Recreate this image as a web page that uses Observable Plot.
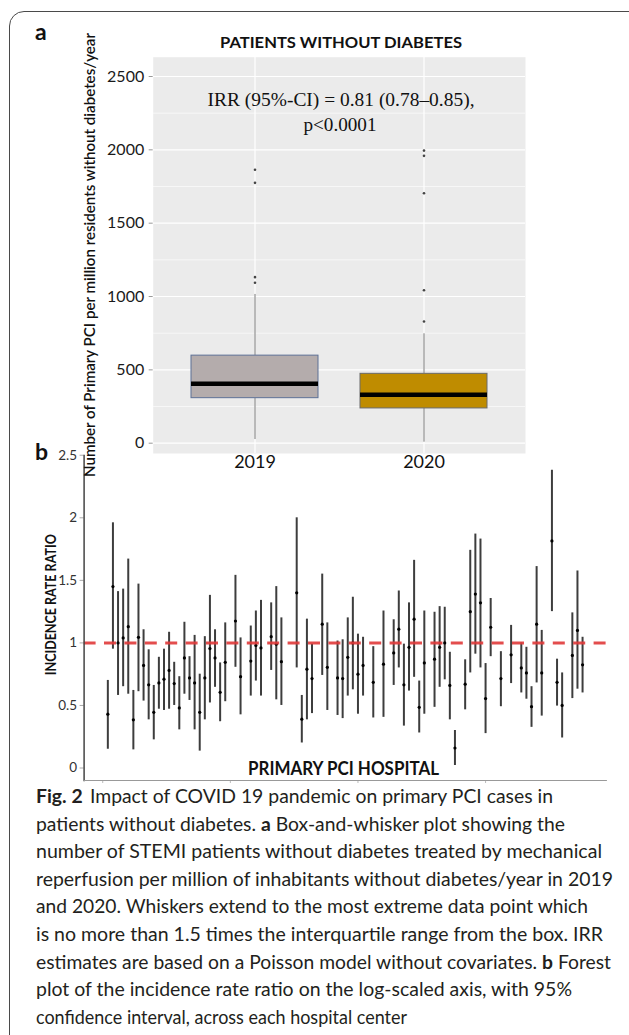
<!DOCTYPE html>
<html><head><meta charset="utf-8">
<script src="https://cdn.jsdelivr.net/npm/d3@7"></script>
<script src="https://cdn.jsdelivr.net/npm/@observablehq/plot@0.6"></script>
<style>
html,body{margin:0;padding:0;background:#fff}
body{width:629px;height:1035px;overflow:hidden;position:relative;font-family:Lato,sans-serif}
#frame{position:absolute;left:9px;top:11px;width:700px;height:1045px;border:1.4px solid #4a4a4a;border-radius:15px;box-sizing:border-box}
.panel{position:absolute;left:0}
#ov{position:absolute;left:0;top:0}
</style></head><body>
<div id="frame"></div>
<div id="pa" class="panel" style="top:0px"></div>
<div id="pb" class="panel" style="top:440px"></div>
<script>
// ---------- Panel a data (box plot) ----------
const years = ["2019", "2020"];
const q1 = [307, 237];
const med = [405, 330];
const q3 = [597, 473];
const whiskLo = [25, 7];
const whiskHi = [1014, 746];
const outliers2019 = [1094, 1132, 1775, 1864];
const outliers2020 = [830, 1043, 1704, 1959, 1995];
const yTicksA = [0, 500, 1000, 1500, 2000, 2500];
const yMinorA = [250, 750, 1250, 1750, 2250];

// ---------- Panel b data (forest plot) ----------
const hospitals = [1,2,3,4,5,6,7,8,9,10,11,12,13,14,15,16,17,18,19,20,21,22,23,24,
  26,27,29,30,31,33,34,35,38,39,40,41,43,44,46,47,48,49,50,51,53,55,57,58,59,60,61,62,63,
  65,66,67,68,69,71,72,73,74,75,76,78,80,82,83,84,85,86,88,89,90,92,93,94];
const irr = [0.43,1.45,1.00,1.04,1.13,0.385,1.045,0.82,0.665,0.445,0.68,0.71,0.78,0.675,0.48,0.88,0.72,0.68,0.445,0.72,0.955,0.88,0.605,0.845,
  1.175,0.73,0.855,0.98,0.96,1.05,0.99,0.85,1.40,0.39,0.79,0.715,1.15,0.805,0.72,0.715,0.885,1.00,0.75,0.82,0.685,0.83,0.92,1.11,0.665,0.965,1.19,0.485,0.84,
  0.87,0.965,1.00,0.66,0.16,0.67,1.25,1.39,1.32,0.555,1.125,0.715,0.905,0.80,0.76,0.49,1.15,0.76,1.815,0.685,0.50,0.90,1.10,0.825];
const ciLow = [0.15,0.95,0.58,0.65,0.59,0.145,0.61,0.535,0.385,0.225,0.47,0.46,0.47,0.50,0.305,0.59,0.54,0.305,0.135,0.385,0.52,0.645,0.37,0.53,
  0.805,0.425,0.575,0.695,0.575,0.78,0.545,0.50,0.80,0.20,0.385,0.435,0.74,0.46,0.42,0.395,0.575,0.625,0.43,0.575,0.40,0.405,0.66,0.80,0.335,0.615,0.725,0.28,0.43,
  0.485,0.645,0.705,0.385,0.02,0.465,0.76,0.91,0.80,0.275,0.89,0.49,0.675,0.60,0.55,0.325,0.68,0.415,1.25,0.495,0.24,0.555,0.63,0.60];
const ciHigh = [0.70,1.96,1.41,1.43,1.67,0.62,1.47,1.105,0.945,0.66,0.885,0.95,1.085,0.845,0.73,1.165,0.89,1.06,0.75,1.05,1.38,1.105,0.84,1.16,
  1.54,1.04,1.135,1.255,1.34,1.32,1.45,1.20,2.00,0.58,1.19,0.99,1.55,1.16,1.015,1.025,1.20,1.365,1.07,1.045,0.97,1.255,1.185,1.415,0.99,1.32,1.66,0.695,1.255,
  1.245,1.29,1.285,0.925,0.30,0.865,1.74,1.87,1.83,0.835,1.355,0.93,1.14,1.00,0.965,0.65,1.61,1.10,2.38,0.87,0.76,1.24,1.575,1.045];
const yTicksB = [0, 0.5, 1, 1.5, 2, 2.5];
const xTicksB = [0, 25, 50, 75];
const refLine = [1];

// ---------- Panel a ----------
const boxData = years.map((y, i) => ({year: y, q1: q1[i], med: med[i], q3: q3[i], lo: whiskLo[i], hi: whiskHi[i]}));
const outData = [...outliers2019.map(v => ({year: "2019", v})), ...outliers2020.map(v => ({year: "2020", v}))];

const pa = Plot.plot({
  width: 629, height: 490,
  marginLeft: 152.7, marginRight: 104, marginTop: 56.7, marginBottom: 37,
  style: {background: "none", fontFamily: "Lato, sans-serif", overflow: "visible"},
  x: {type: "band", domain: years, paddingInner: 0.25, paddingOuter: 0.225, label: null},
  y: {domain: [-70.2, 2631.6], label: null},
  marks: [
    Plot.frame({fill: "#ebebeb", stroke: "none"}),
    Plot.ruleY(yMinorA, {stroke: "#fff", strokeWidth: 0.6}),
    Plot.ruleY(yTicksA, {stroke: "#fff", strokeWidth: 1.2}),
    Plot.ruleX(years, {x: d => d, stroke: "#fff", strokeWidth: 1.2}),
    Plot.ruleX(boxData, {x: "year", y1: "lo", y2: "q1", stroke: "#7a7a7a", strokeWidth: 1}),
    Plot.ruleX(boxData, {x: "year", y1: "q3", y2: "hi", stroke: "#7a7a7a", strokeWidth: 1}),
    Plot.barY(boxData.filter(d => d.year === "2019"), {x: "year", y1: "q1", y2: "q3", fill: "#b4acac", stroke: "#5d7196", strokeWidth: 1}),
    Plot.barY(boxData.filter(d => d.year === "2020"), {x: "year", y1: "q1", y2: "q3", fill: "#bf8c00", stroke: "#6a6a6a", strokeWidth: 1}),
    Plot.tickY(boxData, {x: "year", y: "med", stroke: "#000", strokeWidth: 4.5}),
    Plot.dot(outData, {x: "year", y: "v", r: 1.3, fill: "#444", stroke: "none"}),
    Plot.axisY(yTicksA, {tickSize: 4, tickPadding: 5, fontSize: 16, fill: "#1a1a1a", stroke: "#999", tickFormat: d => String(d), label: null}),
    Plot.axisX({tickSize: 0, tickPadding: 2, fontSize: 18, fill: "#111", label: null})
  ]
});
document.getElementById("pa").appendChild(pa);

// ---------- Panel b ----------
const forest = hospitals.map((h, i) => ({h, est: irr[i], lo: ciLow[i], hi: ciHigh[i]}));
const pb = Plot.plot({
  width: 629, height: 350,
  marginLeft: 83.6, marginRight: 23.2, marginTop: 15, marginBottom: 10,
  style: {background: "none", fontFamily: "Lato, sans-serif", overflow: "visible"},
  x: {domain: [-3.65, 98.65], label: null},
  y: {domain: [-0.0998, 2.498], label: null},
  marks: [
    Plot.ruleX(forest, {x: "h", y1: "lo", y2: "hi", stroke: "#3d3d3d", strokeWidth: 2}),
    Plot.dot(forest, {x: "h", y: "est", r: 1.6, fill: "#000", stroke: "none"}),
    Plot.ruleY(refLine, {stroke: "#e03a3a", strokeWidth: 3, strokeDasharray: "12,8.4", strokeOpacity: 0.9}),
    Plot.axisY(yTicksB, {tickSize: 4, tickPadding: 3, fontSize: 13.5, fill: "#333", stroke: "#aaa", tickFormat: d => String(d), label: null}),
    Plot.axisX(xTicksB, {tickSize: 3, stroke: "#bbb", tickFormat: () => "", label: null}),
    Plot.frame({anchor: "left", stroke: "#444", strokeWidth: 1.5}),
    Plot.frame({anchor: "bottom", stroke: "#999", strokeWidth: 1.2})
  ]
});
document.getElementById("pb").appendChild(pb);

// ---------- Overlay texts ----------
const ov = d3.select("body").append("svg").attr("id", "ov")
  .attr("width", 629).attr("height", 1035).attr("viewBox", "0 0 629 1035");

function label(parts, o) {
  const t = ov.append("text")
    .attr("x", o.x).attr("y", o.y)
    .attr("text-anchor", o.anchor || "start")
    .attr("font-family", o.family || "Lato, sans-serif")
    .attr("font-size", o.size)
    .attr("font-weight", o.weight || 400)
    .attr("fill", o.fill || "#111");
  if (o.rotate) t.attr("transform", `rotate(${o.rotate},${o.x},${o.y})`);
  if (o.len) t.attr("textLength", o.len).attr("lengthAdjust", "spacingAndGlyphs");
  if (typeof parts === "string") parts = [[parts, false]];
  parts.forEach(([s, b, dx]) => {
    const ts = t.append("tspan").text(s);
    if (b) ts.attr("font-weight", 700);
    if (dx) ts.attr("dx", dx);
  });
  return t;
}

label("a", {x: 35, y: 40, size: 23, weight: 700});
label("b", {x: 35, y: 460, size: 23, weight: 700});
label("PATIENTS WITHOUT DIABETES", {x: 341, y: 48.3, anchor: "middle", size: 16, weight: 700, len: 242});
label("IRR (95%-CI) = 0.81 (0.78\u20130.85),", {x: 341, y: 106, anchor: "middle", size: 19, family: "'Liberation Serif', serif", len: 267});
label("p<0.0001", {x: 340, y: 131, anchor: "middle", size: 19, family: "'Liberation Serif', serif", len: 73});
label("Number of Primary PCI per million residents without diabetes/year", {x: 95, y: 255, anchor: "middle", size: 14.5, weight: 600, rotate: -90, len: 444});
label("INCIDENCE RATE RATIO", {x: 56.5, y: 604.7, anchor: "middle", size: 15, weight: 700, rotate: -90, len: 141});
label("PRIMARY PCI HOSPITAL", {x: 343.5, y: 775, anchor: "middle", size: 18, weight: 700, len: 191});

const capLines = [
  [[["Fig. 2", true], ["Impact of COVID 19 pandemic on primary PCI cases in", false, 7]], 517],
  [[["patients without diabetes. ", false], ["a", true], [" Box-and-whisker plot showing the", false]], 529],
  [[["number of STEMI patients without diabetes treated by mechanical", false]], 566],
  [[["reperfusion per million of inhabitants without diabetes/year in 2019", false]], 577],
  [[["and 2020. Whiskers extend to the most extreme data point which", false]], 552],
  [[["is no more than 1.5 times the interquartile range from the box. IRR", false]], 567],
  [[["estimates are based on a Poisson model without covariates. ", false], ["b", true], [" Forest", false]], 575],
  [[["plot of the incidence rate ratio on the log-scaled axis, with 95%", false]], 536],
  [[["confidence interval, across each hospital center", false]], 371]
];
capLines.forEach(([parts, len], k) => {
  label(parts, {x: 36, y: 803 + 27.6 * k, size: 18.5, fill: "#231f20", len});
});
</script>
</body></html>
